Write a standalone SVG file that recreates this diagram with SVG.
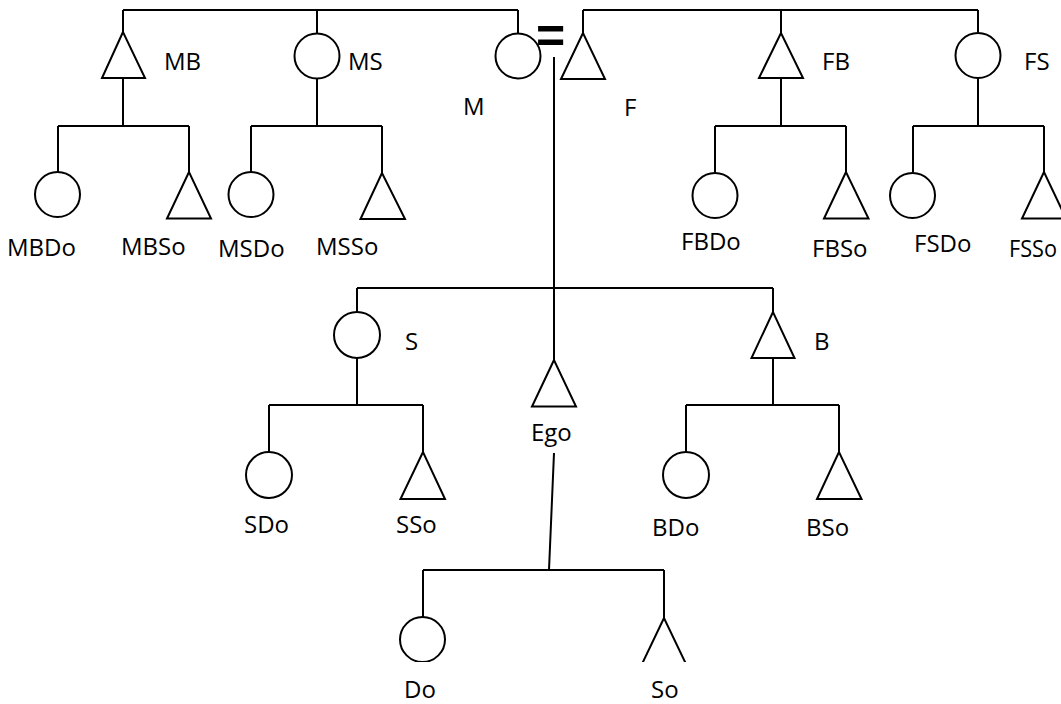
<svg xmlns="http://www.w3.org/2000/svg" width="1061" height="704" viewBox="0 0 1061 704">
<style>
.ln{fill:none;stroke:#000;stroke-width:2;stroke-linecap:butt}
.sh{fill:#fff;stroke:#000;stroke-width:2}
.lb{font-family:"Open Sans","Noto Sans",sans-serif;font-size:24px;fill:#000}
.eq{font-family:"Liberation Sans",Arial,sans-serif;font-size:50px;font-weight:bold;fill:#000}
</style>
<defs>
<clipPath id="bottomClip"><rect x="0" y="0" width="1061" height="662"/></clipPath>
</defs>
<rect width="1061" height="704" fill="#fff"/>
<g id="connectors" class="ln">
<path d="M123 10H518M123 10V32M317 10V33M518 10V33"/>
<path d="M583 10H978M583 10V33M781 10V33M978 10V32"/>
<path d="M123 78V126M58 126H189M58 126V172M189 126V172"/>
<path d="M317 79V126M251 126H382M251 126V172M382 126V173"/>
<path d="M781 78V126M715 126H846M715 126V172M846 126V172"/>
<path d="M978 78V126M913 126H1044M913 126V172M1044 126V172"/>
<path d="M554 57V360M357 288H773M357 288V312M773 288V312"/>
<path d="M357 358V405M269 405H423M269 405V452M423 405V452"/>
<path d="M773 358V405M686 405H839M686 405V452M839 405V452"/>
<path d="M554 453L549 570M423 570H664M423 570V617M664 570V618"/>
</g>
<g id="node-MB"><polygon class="sh" points="123,32 102,78 145,78"/><text class="lb" x="164" y="70">MB</text></g>
<g id="node-MS"><circle class="sh" cx="317" cy="56" r="22.5"/><text class="lb" x="348" y="70">MS</text></g>
<g id="node-M"><circle class="sh" cx="518" cy="56" r="22.5"/><text class="lb" x="463" y="115">M</text></g>
<g id="marriage"><text class="eq" x="536" y="53">=</text></g>
<g id="node-F"><polygon class="sh" points="583,33 561,79 605,79"/><text class="lb" x="624" y="116">F</text></g>
<g id="node-FB"><polygon class="sh" points="781,33 759,78 803,78"/><text class="lb" x="822" y="70">FB</text></g>
<g id="node-FS"><circle class="sh" cx="978" cy="55.5" r="22.5"/><text class="lb" x="1024" y="70">FS</text></g>
<g id="node-MBDo"><circle class="sh" cx="57.5" cy="194.5" r="22.5"/><text class="lb" x="7" y="256">MBDo</text></g>
<g id="node-MBSo"><polygon class="sh" points="189,172 167,218.5 211,218.5"/><text class="lb" x="121" y="255">MBSo</text></g>
<g id="node-MSDo"><circle class="sh" cx="251" cy="194.5" r="22.5"/><text class="lb" x="218" y="257">MSDo</text></g>
<g id="node-MSSo"><polygon class="sh" points="382,173 360.5,219 405,219"/><text class="lb" x="316" y="255">MSSo</text></g>
<g id="node-FBDo"><circle class="sh" cx="715" cy="195.5" r="22.5"/><text class="lb" x="681" y="250">FBDo</text></g>
<g id="node-FBSo"><polygon class="sh" points="846,172 824,218.5 868.5,218.5"/><text class="lb" x="812" y="257">FBSo</text></g>
<g id="node-FSDo"><circle class="sh" cx="912.5" cy="195.5" r="22.5"/><text class="lb" x="914" y="252">FSDo</text></g>
<g id="node-FSSo"><polygon class="sh" points="1044,172 1022,218.5 1066,218.5"/><text class="lb" x="1009" y="257" textLength="48" lengthAdjust="spacingAndGlyphs">FSSo</text></g>
<g id="node-S"><circle class="sh" cx="357" cy="335" r="23"/><text class="lb" x="405" y="350">S</text></g>
<g id="node-Ego"><polygon class="sh" points="554,360 532,406.5 576,406.5"/><text class="lb" x="531" y="441">Ego</text></g>
<g id="node-B"><polygon class="sh" points="773,312 751.5,358 794.5,358"/><text class="lb" x="814" y="350">B</text></g>
<g id="node-SDo"><circle class="sh" cx="269" cy="475" r="23"/><text class="lb" x="244" y="533">SDo</text></g>
<g id="node-SSo"><polygon class="sh" points="423,452 400.5,499 445,499"/><text class="lb" x="396" y="533">SSo</text></g>
<g id="node-BDo"><circle class="sh" cx="686" cy="475" r="23"/><text class="lb" x="652" y="536">BDo</text></g>
<g id="node-BSo"><polygon class="sh" points="839,452 817,499 861.5,499"/><text class="lb" x="806" y="536">BSo</text></g>
<g id="node-Do"><circle class="sh" cx="422.5" cy="639.5" r="22.5" clip-path="url(#bottomClip)"/><text class="lb" x="404" y="698">Do</text></g>
<g id="node-So"><polygon class="sh" points="664,618 642,664 686,664" clip-path="url(#bottomClip)"/><text class="lb" x="651" y="698">So</text></g>
</svg>
